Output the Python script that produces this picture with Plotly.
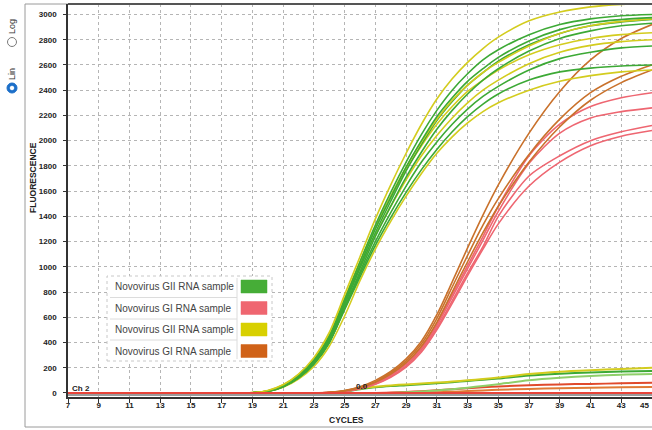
import plotly.graph_objects as go

# ---------------- data ----------------
CYCLES = [7, 17, 19, 20, 21, 22, 23, 24, 25, 26, 27, 28, 29, 30, 31, 32, 33, 34, 35, 37, 39, 41, 43, 45]

# Novovirus GII (green / yellow)
GII_Y1 = [0, 0, 3, 20, 65, 150, 280, 480, 780, 1080, 1380, 1650, 1900, 2130, 2330, 2490, 2620, 2730, 2820, 2950, 3020, 3060, 3080, 3090]
GII_G1 = [0, 0, 2, 15, 60, 140, 260, 450, 740, 1040, 1330, 1590, 1830, 2050, 2240, 2400, 2530, 2640, 2720, 2840, 2920, 2965, 2990, 3000]
GII_G2 = [0, 0, 2, 14, 58, 135, 250, 435, 720, 1010, 1300, 1550, 1790, 2000, 2190, 2340, 2470, 2570, 2660, 2790, 2880, 2935, 2960, 2975]
GII_Y2 = [0, 0, 2, 16, 60, 140, 265, 455, 740, 1030, 1310, 1560, 1790, 1990, 2170, 2320, 2440, 2540, 2620, 2750, 2850, 2910, 2945, 2965]
GII_G3 = [0, 0, 2, 15, 55, 130, 240, 420, 700, 990, 1270, 1520, 1760, 1970, 2160, 2310, 2440, 2540, 2630, 2760, 2850, 2910, 2940, 2960]
GII_G4 = [0, 0, 2, 12, 50, 120, 230, 400, 680, 960, 1240, 1480, 1710, 1910, 2090, 2240, 2370, 2480, 2570, 2710, 2810, 2870, 2910, 2930]
GII_Y3 = [0, 0, 3, 18, 65, 145, 270, 460, 750, 1040, 1310, 1550, 1770, 1960, 2130, 2270, 2390, 2480, 2560, 2680, 2760, 2810, 2840, 2855]
GII_Y4 = [0, 0, 2, 15, 55, 130, 250, 430, 710, 990, 1250, 1480, 1690, 1880, 2040, 2180, 2300, 2400, 2480, 2610, 2700, 2755, 2785, 2800]
GII_G5 = [0, 0, 2, 12, 50, 120, 230, 400, 670, 940, 1200, 1430, 1640, 1830, 1990, 2130, 2250, 2350, 2430, 2560, 2650, 2700, 2735, 2750]
GII_G6 = [0, 0, 2, 12, 50, 120, 230, 400, 660, 920, 1170, 1390, 1590, 1770, 1930, 2070, 2190, 2290, 2370, 2480, 2545, 2575, 2592, 2600]
GII_Y5 = [0, 0, 2, 12, 45, 110, 210, 370, 610, 890, 1140, 1360, 1560, 1740, 1900, 2030, 2140, 2230, 2300, 2400, 2470, 2515, 2545, 2560]

# Novovirus GI (pink / orange)
GI_O1 = [0, 0, 0, 0, 0, 0, 0, 5, 20, 50, 100, 170, 270, 410, 620, 880, 1150, 1410, 1650, 2060, 2390, 2640, 2810, 2920]
GI_O2 = [0, 0, 0, 0, 0, 0, 0, 5, 18, 45, 90, 160, 255, 390, 590, 840, 1090, 1330, 1540, 1890, 2170, 2380, 2510, 2600]
GI_O3 = [0, 0, 0, 0, 0, 0, 0, 4, 16, 42, 85, 150, 240, 370, 560, 800, 1040, 1270, 1480, 1830, 2110, 2320, 2460, 2560]
GI_P1 = [0, 0, 0, 0, 0, 0, 0, 4, 15, 40, 80, 145, 235, 365, 550, 780, 1010, 1240, 1480, 1880, 2130, 2270, 2340, 2380]
GI_P2 = [0, 0, 0, 0, 0, 0, 0, 4, 14, 38, 78, 140, 228, 355, 535, 760, 985, 1210, 1440, 1820, 2060, 2180, 2230, 2260]
GI_P3 = [0, 0, 0, 0, 0, 0, 0, 3, 12, 35, 72, 130, 215, 340, 515, 730, 950, 1160, 1400, 1720, 1880, 2000, 2070, 2120]
GI_P4 = [0, 0, 0, 0, 0, 0, 0, 3, 12, 34, 70, 125, 205, 325, 500, 710, 930, 1140, 1340, 1640, 1830, 1960, 2035, 2080]

# low-level signals
LOW_Y = [0, 0, 0, 0, 0, 0, 0, 0, 15, 35, 50, 60, 68, 75, 82, 90, 100, 110, 122, 150, 168, 180, 190, 200]
LOW_G1 = [0, 0, 0, 0, 0, 0, 0, 0, 12, 30, 45, 55, 62, 70, 77, 85, 95, 105, 115, 138, 152, 162, 170, 175]
LOW_G2 = [0, 0, 0, 0, 0, 0, 0, 0, 0, 0, 0, 0, 5, 12, 20, 30, 42, 55, 70, 100, 120, 135, 145, 150]
LOW_R = [0, 0, 0, 0, 0, 0, 0, 0, 0, 0, 0, 3, 8, 14, 22, 30, 38, 45, 52, 62, 68, 72, 76, 80]
LOW_O = [0, 0, 0, 0, 0, 0, 0, 0, 0, 0, 0, 0, 0, 2, 5, 10, 15, 20, 25, 32, 38, 42, 45, 48]

BASE_X = [7, 45]
BASE_GRAY = [-12, -12]
BASE_RED = [0, 0]

Y_TICKS = [0, 200, 400, 600, 800, 1000, 1200, 1400, 1600, 1800, 2000, 2200, 2400, 2600, 2800, 3000]
X_TICKS = [7, 9, 11, 13, 15, 17, 19, 21, 23, 25, 27, 29, 31, 33, 35, 37, 39, 41, 43, 45]

LEGEND_LABELS = ["Novovirus GII RNA sample", "Novovirus GI RNA sample",
                 "Novovirus GII RNA sample", "Novovirus GI RNA sample"]

# ---------------- styles ----------------
GREEN = "#3ca935"
YELLOW = "#d3cc1e"
PINK = "#ee6671"
ORANGE = "#c9712b"
SWATCHES = ["#46ad37", "#ef6670", "#d8d000", "#d06218"]

W, H = 652, 430
L, R, T, B = 68, 0, 4, 33
PW, PH = W - L - R, H - T - B


def px(x):
    return (x - L) / PW


def py(y):
    return (H - B - y) / PH


fig = go.Figure()


def add(x, y, color, width=1.6):
    fig.add_trace(go.Scatter(x=x, y=y, mode="lines", line=dict(color=color, width=width, shape="spline", smoothing=0.8),
                             showlegend=False, hoverinfo="skip"))


add(BASE_X, BASE_GRAY, "#9a9a9a", 3)
for arr, col in [(LOW_O, "#e07a35"), (LOW_R, "#e04a2c"), (LOW_G2, "#8fcf6a"), (LOW_G1, GREEN), (LOW_Y, YELLOW)]:
    add(CYCLES, arr, col, 2)

for arr, col in [(GI_P4, PINK), (GI_P3, PINK), (GI_P2, PINK), (GI_P1, PINK),
                 (GI_O3, ORANGE), (GI_O2, ORANGE), (GI_O1, ORANGE)]:
    add(CYCLES, arr, col)

for arr, col in [(GII_Y5, YELLOW), (GII_G6, GREEN), (GII_G5, GREEN), (GII_Y4, YELLOW), (GII_Y3, YELLOW),
                 (GII_G4, GREEN), (GII_G3, GREEN), (GII_Y2, YELLOW), (GII_G2, GREEN), (GII_G1, GREEN), (GII_Y1, YELLOW)]:
    add(CYCLES, arr, col)

add(BASE_X, BASE_RED, "#e8443a", 2)

tickfont = dict(family="Liberation Sans, Arial, sans-serif", size=8, color="#222", weight="bold")

fig.update_layout(
    width=W, height=H,
    margin=dict(l=L, r=R, t=T, b=B, autoexpand=False),
    paper_bgcolor="white", plot_bgcolor="white",
    showlegend=False,
    xaxis=dict(range=[7, 45], tickvals=X_TICKS, ticktext=[str(v) for v in X_TICKS],
               ticks="outside", ticklen=4, tickcolor="#333", tickwidth=1,
               showline=True, linecolor="#333", linewidth=1.5,
               showgrid=True, gridcolor="#b5b5b5", griddash="dot", gridwidth=1,
               zeroline=False, tickfont=tickfont, ticklabelstandoff=-4, automargin=False),
    yaxis=dict(range=[-32, 3083], tickvals=Y_TICKS, ticktext=[str(v) for v in Y_TICKS],
               ticks="outside", ticklen=3, tickcolor="#333", tickwidth=1,
               showline=True, linecolor="#333", linewidth=1.5,
               showgrid=True, gridcolor="#b5b5b5", griddash="dot", gridwidth=1,
               zeroline=False, tickfont=tickfont, ticklabelstandoff=5, automargin=False),
)

shapes = []
# outer panel border
shapes.append(dict(type="rect", xref="paper", yref="paper", x0=px(25), x1=px(660), y0=py(427), y1=py(4),
                   line=dict(color="#9a9a9a", width=1), fillcolor="rgba(0,0,0,0)", layer="below"))
# top frame of plot
shapes.append(dict(type="line", xref="paper", yref="paper", x0=0, x1=1, y0=1, y1=1,
                   line=dict(color="#555", width=2)))

# legend box
shapes.append(dict(type="rect", xref="paper", yref="paper", x0=px(107), x1=px(272), y0=py(361), y1=py(276),
                   line=dict(color="#c8c8c8", width=1, dash="dot"), fillcolor="white", layer="above"))
for yy in [297.5, 319, 340]:
    shapes.append(dict(type="line", xref="paper", yref="paper", x0=px(110), x1=px(237), y0=py(yy), y1=py(yy),
                       line=dict(color="#dcdcdc", width=1), layer="above"))
shapes.append(dict(type="line", xref="paper", yref="paper", x0=px(237), x1=px(237), y0=py(359), y1=py(278),
                   line=dict(color="#dcdcdc", width=1), layer="above"))
row_y = [286.5, 308, 329.5, 351]
for yc, col in zip(row_y, SWATCHES):
    shapes.append(dict(type="rect", xref="paper", yref="paper", x0=px(241), x1=px(267), y0=py(yc + 6.5), y1=py(yc - 6.5),
                       line=dict(color=col, width=0.5), fillcolor=col, layer="above"))

# radio buttons (sidebar)
def circle(cx, cy, r, fill, line):
    return dict(type="circle", xref="paper", yref="paper", xsizemode="pixel", ysizemode="pixel",
                xanchor=px(cx), yanchor=py(cy), x0=-r, x1=r, y0=-r, y1=r,
                fillcolor=fill, line=dict(color=line, width=1))

shapes.append(circle(12, 42, 4.5, "white", "#7a7a7a"))
shapes.append(circle(12, 88, 5, "#1c6fc9", "#1c6fc9"))
shapes.append(circle(12, 88, 1.8, "white", "white"))

annotations = []
lf = dict(family="Liberation Sans, Arial, sans-serif", size=10, color="#444")
for yc, txt in zip(row_y, LEGEND_LABELS):
    annotations.append(dict(xref="paper", yref="paper", x=px(113), y=py(yc), text=txt, showarrow=False,
                            xanchor="left", yanchor="middle", font=lf))

bf = dict(family="Liberation Sans, Arial, sans-serif", size=8.5, color="#222", weight="bold")
annotations.append(dict(xref="paper", yref="paper", x=px(33), y=py(178), text="FLUORESCENCE", textangle=-90,
                        showarrow=False, xanchor="center", yanchor="middle", font=bf))
annotations.append(dict(xref="paper", yref="paper", x=px(346), y=py(420), text="CYCLES",
                        showarrow=False, xanchor="center", yanchor="middle", font=bf))
annotations.append(dict(xref="paper", yref="paper", x=px(70), y=py(388), text="Ch 2",
                        showarrow=False, xanchor="left", yanchor="middle", font=dict(bf, size=8)))
annotations.append(dict(xref="paper", yref="paper", x=px(362), y=py(386), text="0.0",
                        showarrow=False, xanchor="center", yanchor="middle", font=dict(bf, size=8)))
# last x tick label, kept fully inside the right edge
annotations.append(dict(xref="x", yref="paper", x=X_TICKS[-1], y=py(406), text=str(X_TICKS[-1]),
                        showarrow=False, xanchor="right", yanchor="middle", xshift=-1, font=tickfont))
sf = dict(family="Liberation Sans, Arial, sans-serif", size=9, color="#333")
annotations.append(dict(xref="paper", yref="paper", x=px(12), y=py(27), text="Log", textangle=-90,
                        showarrow=False, xanchor="center", yanchor="middle", font=sf))
annotations.append(dict(xref="paper", yref="paper", x=px(12), y=py(74), text="Lin", textangle=-90,
                        showarrow=False, xanchor="center", yanchor="middle", font=sf))

fig.update_layout(shapes=shapes, annotations=annotations)
fig.write_html("out.html", config={"displayModeBar": False},
               post_script="document.body.style.margin='0';document.body.style.overflow='hidden';")
